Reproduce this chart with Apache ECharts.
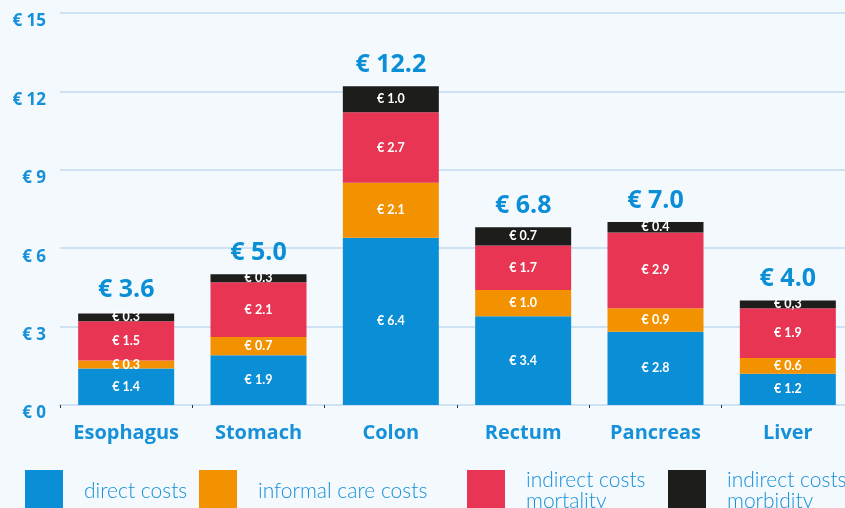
<!DOCTYPE html>
<html><head><meta charset="utf-8">
<script src="https://cdn.jsdelivr.net/npm/echarts@6/dist/echarts.min.js"></script>
<style>html,body{margin:0;padding:0;background:#f4f9fe;overflow:hidden;}#c{width:860px;height:508px;}</style>
</head><body><div id="c"></div>
<script>
var categories = ["Esophagus","Stomach","Colon","Rectum","Pancreas","Liver"];
var directCosts = [1.4,1.9,6.4,3.4,2.8,1.2];
var informalCare = [0.3,0.7,2.1,1.0,0.9,0.6];
var indirectMortality = [1.5,2.1,2.7,1.7,2.9,1.9];
var indirectMorbidity = [0.3,0.3,1.0,0.7,0.4,0.3];
var totals = [3.6,5.0,12.2,6.8,7.0,4.0];
var morbidityLabels = ["€ 0.3","€ 0.3","€ 1.0","€ 0.7","€ 0.4","€ 0,3"];
var yTicks = [0,3,6,9,12,15];

var FONT = "Lato, 'Noto Sans', sans-serif";
var WFONT = "'Open Sans', 'Noto Sans', sans-serif";
var BLUE_TXT = "#1690d8";
var BW = 96;
function segLabel(fmt){
  return {show:true, position:'inside', color:'#fff', fontFamily:FONT, fontWeight:'bold', fontSize:12.5,
    formatter: fmt || function(p){return '€ ' + p.value.toFixed(1);}};
}
function mk(name, data, color, lbl){
  return {name:name, type:'bar', stack:'s', data:data, barWidth:BW,
    itemStyle:{color:color}, label:lbl, emphasis:{disabled:true}};
}
var series = [
  mk('direct costs', directCosts, '#0a8fd6', segLabel()),
  mk('informal care costs', informalCare, '#f39200', segLabel()),
  mk('indirect costs\nmortality', indirectMortality, '#e83553', segLabel()),
  mk('indirect costs\nmorbidity', indirectMorbidity, '#1d1d1b', segLabel(function(p){return morbidityLabels[p.dataIndex];})),
  {name:'total', type:'bar', data:totals, barWidth:BW, barGap:'-100%', z:0, silent:true,
    itemStyle:{color:'rgba(0,0,0,0)'},
    label:{show:true, position:'top', distance:9, color:'#0a8fd6', fontFamily:WFONT, fontWeight:'bold', fontSize:25,
      formatter:function(p){return '€ ' + p.value.toFixed(1);}}}
];
function leg(name, left){
  return {show:true, data:[name], left:left, top:470, padding:0, icon:'rect', itemWidth:38, itemHeight:42,
    selectedMode:false,
    textStyle:{color:BLUE_TXT, fontFamily:FONT, fontWeight:300, fontSize:21, lineHeight:21, padding:[0,0,0,16]}};
}
var chart = echarts.init(document.getElementById('c'), null, {renderer:'canvas'});
chart.setOption({
  backgroundColor:'#f4f9fe',
  animation:false,
  grid:{left:60, top:13, width:794, bottom:103, containLabel:false},
  legend:[leg('direct costs',25), leg('informal care costs',199), leg('indirect costs\nmortality',467), leg('indirect costs\nmorbidity',668)],
  xAxis:{type:'category', data:categories,
    axisLine:{lineStyle:{color:'#cfe2f4', width:2}},
    axisTick:{show:true, length:3, lineStyle:{color:'#333', width:1}},
    axisLabel:{interval:0, color:BLUE_TXT, fontFamily:WFONT, fontWeight:'bold', fontSize:20, margin:18}},
  yAxis:{type:'value', min:0, max:15, interval:3,
    axisLine:{show:false}, axisTick:{show:false},
    splitLine:{lineStyle:{color:'#cfe2f4', width:2}},
    axisLabel:{color:BLUE_TXT, fontFamily:WFONT, fontWeight:'bold', fontSize:17, margin:14, verticalAlign:'top',
      formatter:function(v){return yTicks.indexOf(v) >= 0 ? '€ ' + v : '';}}},
  series:series
});
</script></body></html>
